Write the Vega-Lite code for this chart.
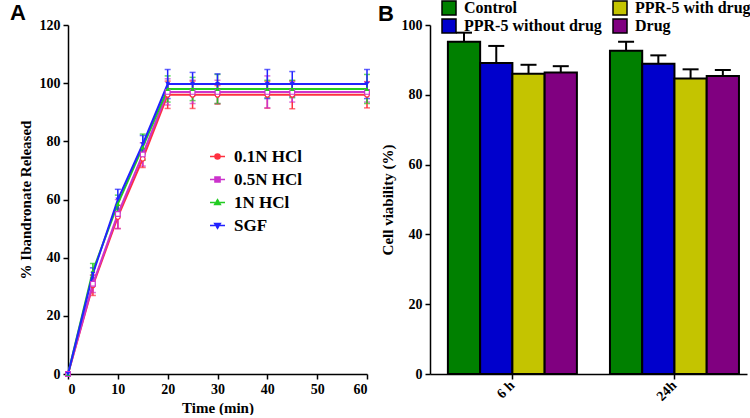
{
  "$schema": "https://vega.github.io/schema/vega-lite/v6.json",
  "padding": {"left": 10, "top": 0, "right": 0, "bottom": 0},
  "background": "white",
  "bounds": "flush",
  "spacing": 63,
  "resolve": {"scale": {"color": "independent"}, "legend": {"color": "independent"}},
  "config": {
    "view": {"stroke": null},
    "axis": {
      "labelFont": "Liberation Serif", "labelFontWeight": "bold", "labelFontSize": 14, "labelColor": "black",
      "titleFont": "Liberation Serif", "titleFontWeight": "bold", "titleFontSize": 15, "titleColor": "black",
      "domainColor": "black", "domainWidth": 1.5, "tickColor": "black", "tickWidth": 1.5, "tickSize": 5,
      "grid": false, "labelPadding": 3
    },
    "legend": {"labelFont": "Liberation Serif", "labelFontWeight": "bold", "labelColor": "black"}
  },
  "datasets": {
    "release": [
      {"series": "0.1N HCl", "time": 0, "value": 0, "err": 0},
      {"series": "0.1N HCl", "time": 5, "value": 30.5, "err": 3.5},
      {"series": "0.1N HCl", "time": 10, "value": 54, "err": 4},
      {"series": "0.1N HCl", "time": 15, "value": 74, "err": 3},
      {"series": "0.1N HCl", "time": 20, "value": 96, "err": 4.7},
      {"series": "0.1N HCl", "time": 25, "value": 96, "err": 4.7},
      {"series": "0.1N HCl", "time": 30, "value": 96, "err": 3.2},
      {"series": "0.1N HCl", "time": 40, "value": 96, "err": 4.6},
      {"series": "0.1N HCl", "time": 45, "value": 96, "err": 4.8},
      {"series": "0.1N HCl", "time": 60, "value": 96, "err": 4.5},
      {"series": "0.5N HCl", "time": 0, "value": 0, "err": 0},
      {"series": "0.5N HCl", "time": 5, "value": 31, "err": 3},
      {"series": "0.5N HCl", "time": 10, "value": 55, "err": 5},
      {"series": "0.5N HCl", "time": 15, "value": 75.5, "err": 4},
      {"series": "0.5N HCl", "time": 20, "value": 97, "err": 4.5},
      {"series": "0.5N HCl", "time": 25, "value": 97, "err": 4},
      {"series": "0.5N HCl", "time": 30, "value": 97, "err": 4},
      {"series": "0.5N HCl", "time": 40, "value": 97, "err": 5.5},
      {"series": "0.5N HCl", "time": 45, "value": 97, "err": 3.5},
      {"series": "0.5N HCl", "time": 60, "value": 97, "err": 3.5},
      {"series": "1N HCl", "time": 0, "value": 0, "err": 0},
      {"series": "1N HCl", "time": 5, "value": 35.5, "err": 2.5},
      {"series": "1N HCl", "time": 10, "value": 58.5, "err": 3},
      {"series": "1N HCl", "time": 15, "value": 78, "err": 4.5},
      {"series": "1N HCl", "time": 20, "value": 98, "err": 4.5},
      {"series": "1N HCl", "time": 25, "value": 98, "err": 4},
      {"series": "1N HCl", "time": 30, "value": 98, "err": 5},
      {"series": "1N HCl", "time": 40, "value": 98, "err": 3},
      {"series": "1N HCl", "time": 45, "value": 98, "err": 3},
      {"series": "1N HCl", "time": 60, "value": 98, "err": 5},
      {"series": "SGF", "time": 0, "value": 0, "err": 0},
      {"series": "SGF", "time": 5, "value": 34.5, "err": 2},
      {"series": "SGF", "time": 10, "value": 60, "err": 3.5},
      {"series": "SGF", "time": 15, "value": 79, "err": 3},
      {"series": "SGF", "time": 20, "value": 99.7, "err": 5},
      {"series": "SGF", "time": 25, "value": 99.7, "err": 4},
      {"series": "SGF", "time": 30, "value": 99.7, "err": 3.5},
      {"series": "SGF", "time": 40, "value": 99.7, "err": 5},
      {"series": "SGF", "time": 45, "value": 99.7, "err": 4.3},
      {"series": "SGF", "time": 60, "value": 99.7, "err": 5}
    ],
    "viability": [
      {"time": "6 h", "group": "Control", "value": 95.2, "hi": 97.8},
      {"time": "6 h", "group": "PPR-5 without drug", "value": 89.1, "hi": 94.0},
      {"time": "6 h", "group": "PPR-5 with drug", "value": 86.0, "hi": 88.6},
      {"time": "6 h", "group": "Drug", "value": 86.4, "hi": 88.2},
      {"time": "24h", "group": "Control", "value": 92.6, "hi": 95.2},
      {"time": "24h", "group": "PPR-5 without drug", "value": 88.9, "hi": 91.3},
      {"time": "24h", "group": "PPR-5 with drug", "value": 84.7, "hi": 87.3},
      {"time": "24h", "group": "Drug", "value": 85.4, "hi": 87.1}
    ]
  },
  "hconcat": [
    {
      "width": 299,
      "height": 349,
      "title": {"text": "A", "anchor": "start", "frame": "group", "dx": -58, "offset": -7, "font": "Liberation Sans", "fontSize": 22, "fontWeight": "bold", "color": "black"},
      "data": {"name": "release"},
      "encoding": {
        "x": {"field": "time", "type": "quantitative", "scale": {"domain": [0, 60], "nice": false},
              "axis": {"values": [0, 10, 20, 30, 40, 50, 60], "title": "Time (min)", "titlePadding": 4}},
        "y": {"field": "value", "type": "quantitative", "scale": {"domain": [0, 120], "nice": false},
              "axis": {"values": [0, 20, 40, 60, 80, 100, 120], "title": "% Ibandronate Released", "titlePadding": 6}},
        "color": {"field": "series", "type": "nominal",
                  "scale": {"domain": ["0.1N HCl", "0.5N HCl", "1N HCl", "SGF"], "range": ["#ff3040", "#cc33cc", "#22cc22", "#2222ff"]},
                  "legend": {
                    "title": null, "orient": "none", "legendX": 141, "legendY": 123,
                    "labelFontSize": 17, "symbolSize": 225, "rowPadding": 5, "labelOffset": 8, "symbolStrokeWidth": 1.5,
                    "encode": {"symbols": {"update": {
                      "shape": {"signal": "datum.value === '0.1N HCl' ? 'M-1,0H-0.36M0.36,0H1M-0.34,0A0.34,0.34,0,1,1,0.34,0A0.34,0.34,0,1,1,-0.34,0Z' : datum.value === '0.5N HCl' ? 'M-1,0H-0.34M0.34,0H1M-0.34,-0.34H0.34V0.34H-0.34Z' : datum.value === '1N HCl' ? 'M-1,0H-0.35M0.35,0H1M0,-0.38L0.38,0.28H-0.38Z' : 'M-1,0H-0.35M0.35,0H1M0,0.38L0.38,-0.28H-0.38Z'"},
                      "fill": {"signal": "datum.value === '1N HCl' ? '#22cc22' : datum.value === 'SGF' ? '#2222ff' : 'white'"},
                      "stroke": {"signal": "datum.value === '0.1N HCl' ? '#ff3040' : datum.value === '0.5N HCl' ? '#cc33cc' : datum.value === '1N HCl' ? '#22cc22' : '#2222ff'"},
                      "opacity": {"value": 1}
                    }}}
                  }}
      },
      "layer": [
        {
          "mark": {"type": "errorbar", "ticks": {"size": 6}, "thickness": 1.5},
          "encoding": {
            "yError": {"field": "err"}
          }
        },
        {
          "mark": {"type": "line", "strokeWidth": 2}
        },
        {
          "transform": [{"filter": "datum.series === '0.1N HCl'"}],
          "mark": {"type": "point", "shape": "circle", "filled": false, "fill": "white", "size": 22, "strokeWidth": 1.2, "opacity": 1}
        },
        {
          "transform": [{"filter": "datum.series === '0.5N HCl'"}],
          "mark": {"type": "point", "shape": "square", "filled": false, "fill": "white", "size": 22, "strokeWidth": 1.2, "opacity": 1}
        },
        {
          "transform": [{"filter": "datum.series === '1N HCl'"}],
          "mark": {"type": "point", "shape": "triangle-up", "filled": true, "size": 22, "opacity": 1}
        },
        {
          "transform": [{"filter": "datum.series === 'SGF'"}],
          "mark": {"type": "point", "shape": "triangle-down", "filled": true, "size": 22, "opacity": 1}
        }
      ]
    },
    {
      "width": 317,
      "height": 349,
      "title": {"text": "B", "anchor": "start", "frame": "group", "dx": -52, "dy": 19, "offset": -7, "font": "Liberation Sans", "fontSize": 22, "fontWeight": "bold", "color": "black"},
      "data": {"name": "viability"},
      "encoding": {
        "x": {"field": "time", "type": "nominal", "sort": ["6 h", "24h"],
              "scale": {"paddingInner": 0.204, "paddingOuter": 0.08, "align": 0.69},
              "axis": {"title": null, "labelAngle": -45, "labelAlign": "right", "labelBaseline": "middle", "labelPadding": 4}},
        "xOffset": {"field": "group", "type": "nominal",
                    "scale": {"domain": ["Control", "PPR-5 without drug", "PPR-5 with drug", "Drug"]}}
      },
      "layer": [
        {
          "mark": {"type": "bar", "stroke": "black", "strokeWidth": 2},
          "encoding": {
            "y": {"field": "value", "type": "quantitative", "scale": {"domain": [0, 100], "nice": false},
                  "axis": {"values": [0, 20, 40, 60, 80, 100], "title": "Cell viability (%)", "titlePadding": 6}},
            "color": {"field": "group", "type": "nominal",
                      "scale": {"domain": ["Control", "PPR-5 without drug", "PPR-5 with drug", "Drug"], "range": ["#008000", "#0000cc", "#c4c400", "#800080"]},
                      "legend": {"title": null, "orient": "none", "legendX": 11, "legendY": -25, "columns": 2,
                                 "symbolType": "square", "symbolSize": 196, "symbolStrokeColor": "black", "symbolStrokeWidth": 1.5,
                                 "labelFontSize": 16, "rowPadding": -5, "columnPadding": 8, "labelOffset": 7, "symbolOpacity": 1, "labelLimit": 200}}
          }
        },
        {
          "mark": {"type": "rule", "color": "black", "strokeWidth": 2},
          "encoding": {
            "y": {"field": "value", "type": "quantitative"},
            "y2": {"field": "hi"}
          }
        },
        {
          "mark": {"type": "tick", "color": "black", "thickness": 2, "size": 16, "opacity": 1},
          "encoding": {
            "y": {"field": "hi", "type": "quantitative"}
          }
        }
      ]
    }
  ]
}
